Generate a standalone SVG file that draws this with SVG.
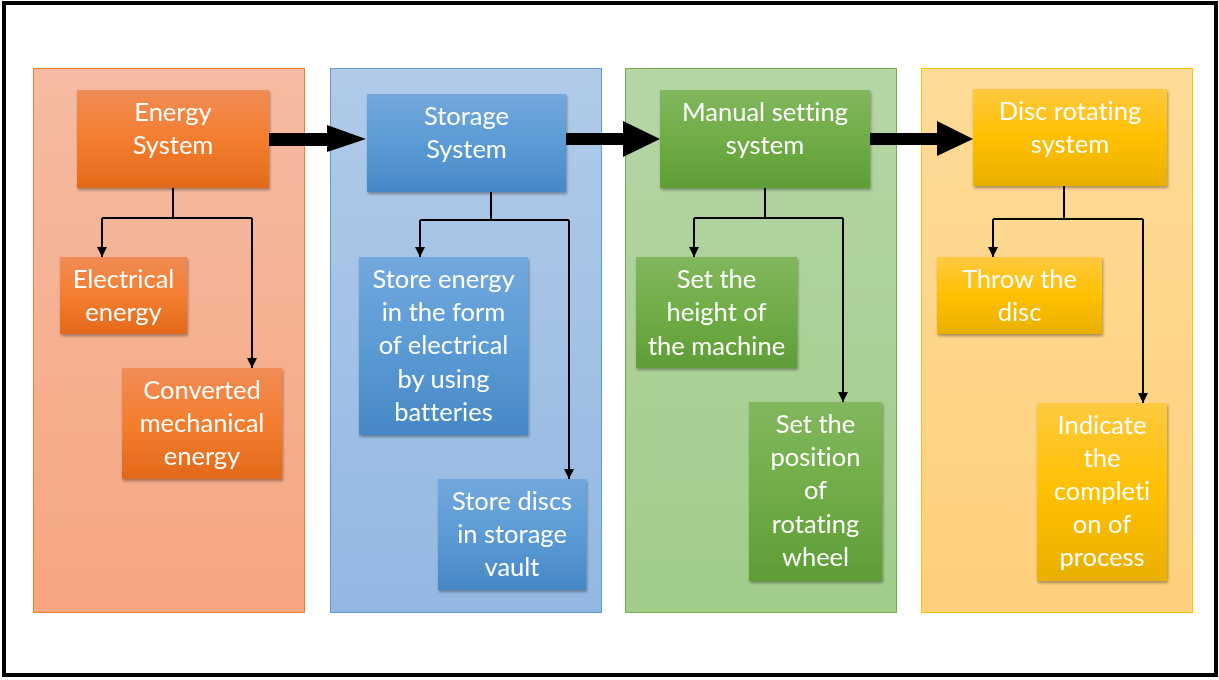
<svg xmlns="http://www.w3.org/2000/svg" width="1219" height="680" viewBox="0 0 1219 680">
<defs>
<linearGradient id="pO" x1="0" y1="0" x2="0" y2="1"><stop offset="0" stop-color="#f5bba2"/><stop offset="1" stop-color="#f7a680"/></linearGradient>
<linearGradient id="pB" x1="0" y1="0" x2="0" y2="1"><stop offset="0" stop-color="#b1cbe9"/><stop offset="1" stop-color="#93b8e2"/></linearGradient>
<linearGradient id="pG" x1="0" y1="0" x2="0" y2="1"><stop offset="0" stop-color="#b6d6a6"/><stop offset="1" stop-color="#a1cc89"/></linearGradient>
<linearGradient id="pY" x1="0" y1="0" x2="0" y2="1"><stop offset="0" stop-color="#fedb98"/><stop offset="1" stop-color="#fed07c"/></linearGradient>
<linearGradient id="bO" x1="0" y1="0" x2="0" y2="1"><stop offset="0" stop-color="#f08c56"/><stop offset="0.5" stop-color="#f47e2f"/><stop offset="1" stop-color="#e2691a"/></linearGradient>
<linearGradient id="bB" x1="0" y1="0" x2="0" y2="1"><stop offset="0" stop-color="#72a8de"/><stop offset="0.5" stop-color="#5b9bd5"/><stop offset="1" stop-color="#4787c6"/></linearGradient>
<linearGradient id="bG" x1="0" y1="0" x2="0" y2="1"><stop offset="0" stop-color="#82b75e"/><stop offset="0.5" stop-color="#70ad47"/><stop offset="1" stop-color="#5e9d36"/></linearGradient>
<linearGradient id="bY" x1="0" y1="0" x2="0" y2="1"><stop offset="0" stop-color="#ffc940"/><stop offset="0.5" stop-color="#ffc000"/><stop offset="1" stop-color="#e9b000"/></linearGradient>
<filter id="sh" x="-10%" y="-10%" width="125%" height="130%"><feDropShadow dx="1" dy="2" stdDeviation="1.5" flood-color="#000" flood-opacity="0.35"/></filter>
<marker id="ah" viewBox="0 0 10 10" refX="10" refY="5" markerWidth="5" markerHeight="5" orient="auto" markerUnits="strokeWidth"><path d="M0,0 L10,5 L0,10 z" fill="#000"/></marker>
</defs>
<style>
.t{font-family:"Lato","Liberation Sans",sans-serif;font-size:25.5px;fill:#fff;text-anchor:middle;font-variant-ligatures:none;font-feature-settings:"liga" 0,"dlig" 0}
.c{fill:none;stroke:#000;stroke-width:2}
.box{filter:url(#sh)}
</style>
<rect x="4" y="3" width="1212" height="672" fill="#fff" stroke="#000" stroke-width="4"/>
<g id="panels">
<rect x="33.5" y="68.5" width="271" height="544" fill="url(#pO)" stroke="#ed7d31" stroke-width="1"/>
<rect x="330.5" y="68.5" width="271" height="544" fill="url(#pB)" stroke="#5b9bd5" stroke-width="1"/>
<rect x="625.5" y="68.5" width="271" height="544" fill="url(#pG)" stroke="#70ad47" stroke-width="1"/>
<rect x="921.5" y="68.5" width="271" height="544" fill="url(#pY)" stroke="#ffc000" stroke-width="1"/>
</g>
<g id="connectors">
<polygon points="269,133 327,133 327,125 366,139 327,152 327,146 269,146" fill="#000"/>
<polygon points="566,133 623,133 623,121 660,139 623,157 623,145 566,145" fill="#000"/>
<polygon points="870,133 937,133 937,121 973,139 937,156 937,145 870,145" fill="#000"/>
<path class="c" d="M173,188 V218 M102,218 H252 M102,218 V257" marker-end="url(#ah)"/>
<path class="c" d="M252,218 V368" marker-end="url(#ah)"/>
<path class="c" d="M491,192 V220 M420,220 H569 M420,220 V257" marker-end="url(#ah)"/>
<path class="c" d="M569,220 V479" marker-end="url(#ah)"/>
<path class="c" d="M765,188 V218 M694,218 H843 M694,218 V257" marker-end="url(#ah)"/>
<path class="c" d="M843,218 V402" marker-end="url(#ah)"/>
<path class="c" d="M1064,186 V219 M993,219 H1143 M993,219 V257" marker-end="url(#ah)"/>
<path class="c" d="M1143,219 V403" marker-end="url(#ah)"/>
</g>
<g id="energy-system" class="box"><rect x="77" y="90" width="192" height="98" fill="url(#bO)"/><text class="t" x="173" y="121">Energy</text><text class="t" x="173" y="154">System</text></g>
<g id="electrical-energy" class="box"><rect x="60" y="257" width="127" height="77" fill="url(#bO)"/><text class="t" x="123.5" y="288">Electrical</text><text class="t" x="123.5" y="321">energy</text></g>
<g id="converted" class="box"><rect x="122" y="368" width="160" height="111" fill="url(#bO)"/><text class="t" x="202" y="399">Converted</text><text class="t" x="202" y="432">mechanical</text><text class="t" x="202" y="465">energy</text></g>
<g id="storage-system" class="box"><rect x="367" y="94" width="199" height="98" fill="url(#bB)"/><text class="t" x="466.5" y="125">Storage</text><text class="t" x="466.5" y="158">System</text></g>
<g id="store-energy" class="box"><rect x="359" y="257" width="169" height="178" fill="url(#bB)"/><text class="t" x="443.5" y="288">Store energy</text><text class="t" x="443.5" y="321">in the form</text><text class="t" x="443.5" y="354">of electrical</text><text class="t" x="443.5" y="388">by using</text><text class="t" x="443.5" y="421">batteries</text></g>
<g id="store-discs" class="box"><rect x="438" y="479" width="148" height="111" fill="url(#bB)"/><text class="t" x="512" y="510">Store discs</text><text class="t" x="512" y="543">in storage</text><text class="t" x="512" y="576">vault</text></g>
<g id="manual-setting" class="box"><rect x="660" y="90" width="210" height="98" fill="url(#bG)"/><text class="t" x="765" y="121">Manual setting</text><text class="t" x="765" y="154">system</text></g>
<g id="set-height" class="box"><rect x="636" y="257" width="161" height="111" fill="url(#bG)"/><text class="t" x="716.5" y="288">Set the</text><text class="t" x="716.5" y="321">height of</text><text class="t" x="716.5" y="355">the machine</text></g>
<g id="set-position" class="box"><rect x="749" y="402" width="133" height="179" fill="url(#bG)"/><text class="t" x="815.5" y="433">Set the</text><text class="t" x="815.5" y="466">position</text><text class="t" x="815.5" y="499">of</text><text class="t" x="815.5" y="533">rotating</text><text class="t" x="815.5" y="566">wheel</text></g>
<g id="disc-rotating" class="box"><rect x="973" y="89" width="194" height="97" fill="url(#bY)"/><text class="t" x="1070" y="120">Disc rotating</text><text class="t" x="1070" y="153">system</text></g>
<g id="throw-disc" class="box"><rect x="937" y="257" width="165" height="77" fill="url(#bY)"/><text class="t" x="1019.5" y="288">Throw the</text><text class="t" x="1019.5" y="321">disc</text></g>
<g id="indicate" class="box"><rect x="1037" y="403" width="130" height="178" fill="url(#bY)"/><text class="t" x="1102" y="434">Indicate</text><text class="t" x="1102" y="467">the</text><text class="t" x="1102" y="500">completi</text><text class="t" x="1102" y="533">on of</text><text class="t" x="1102" y="566">process</text></g>
</svg>
